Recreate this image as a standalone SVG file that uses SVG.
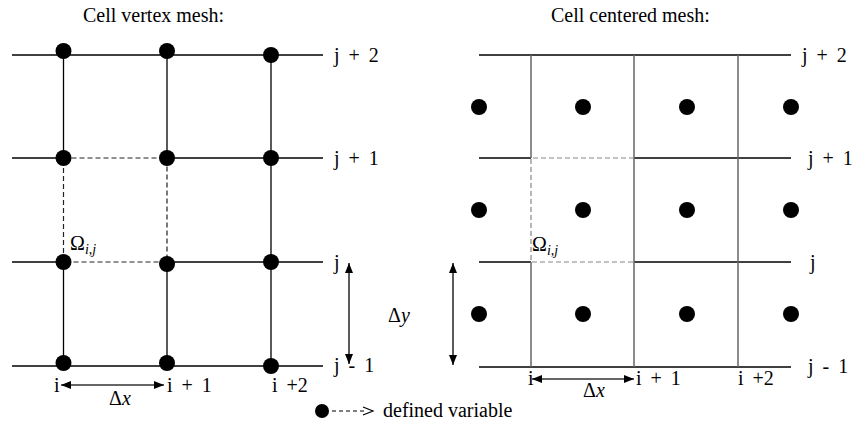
<svg xmlns="http://www.w3.org/2000/svg" width="856" height="425" viewBox="0 0 856 425">
<style>
.ln{stroke:#000;stroke-width:1.3;fill:none}
.gv{stroke:#666;stroke-width:1.5;fill:none}
.ds{stroke:#222;stroke-width:1.2;stroke-dasharray:5 3;fill:none}
.dsg{stroke:#888;stroke-width:1.2;stroke-dasharray:5 3;fill:none}
.dot{fill:#000}
.t{font-family:"Liberation Serif","Times New Roman",serif;font-size:20px;fill:#000}
.lab{font-family:"Liberation Serif","Times New Roman",serif;font-size:20px;fill:#000;word-spacing:4px}
.it{font-style:italic}
.ar{stroke:#333;stroke-width:1.6;fill:none;marker-start:url(#ah);marker-end:url(#ah)}
</style>
<defs>
<marker id="ah" viewBox="0 0 10 8" refX="10" refY="4" markerWidth="10" markerHeight="8" markerUnits="userSpaceOnUse" orient="auto-start-reverse">
<path d="M0,0 L10,4 L0,8 z" fill="#000"/>
</marker>
</defs>

<text class="t" x="83" y="22">Cell vertex mesh:</text>
<text class="t" x="551" y="22">Cell centered mesh:</text>

<g id="vertex-mesh">
<line class="ln" x1="12" y1="55" x2="323" y2="55"/>
<line class="ln" x1="12" y1="158" x2="63.5" y2="158"/>
<line class="ln" x1="167" y1="158" x2="323" y2="158"/>
<line class="ln" x1="12" y1="262" x2="63.5" y2="262"/>
<line class="ln" x1="167" y1="262" x2="323" y2="262"/>
<line class="ln" x1="12" y1="366" x2="323" y2="366"/>
<line class="ln" x1="63.5" y1="55" x2="63.5" y2="158"/>
<line class="ln" x1="63.5" y1="262" x2="63.5" y2="366"/>
<line class="ln" x1="167" y1="55" x2="167" y2="158"/>
<line class="ln" x1="167" y1="262" x2="167" y2="366"/>
<line class="ln" x1="271" y1="55" x2="271" y2="366"/>
<path class="ds" d="M63.5,158 H167 V262 H63.5 Z"/>
<g id="vertex-nodes">
<circle class="dot" cx="63.5" cy="51" r="8"/>
<circle class="dot" cx="167" cy="51" r="8"/>
<circle class="dot" cx="271" cy="55" r="8"/>
<circle class="dot" cx="63.5" cy="158" r="8"/>
<circle class="dot" cx="167" cy="158" r="8"/>
<circle class="dot" cx="271" cy="158" r="8"/>
<circle class="dot" cx="63.5" cy="262" r="8"/>
<circle class="dot" cx="167" cy="264" r="8"/>
<circle class="dot" cx="271" cy="262" r="8"/>
<circle class="dot" cx="63.5" cy="363" r="8"/>
<circle class="dot" cx="167" cy="363" r="8"/>
<circle class="dot" cx="271" cy="366" r="8"/>
</g>
<text class="t" x="70" y="250">Ω<tspan class="it" font-size="14" dy="4">i,j</tspan></text>
<text class="lab" x="334" y="62">j + 2</text>
<text class="lab" x="334" y="165">j + 1</text>
<text class="lab" x="334" y="269">j</text>
<text class="lab" x="334" y="372">j - 1</text>
<text class="lab" x="54" y="392">i</text>
<text class="lab" x="167" y="392">i + 1</text>
<text class="lab" x="272" y="392">i +2</text>
<text class="t" x="109" y="405">Δ<tspan class="it">x</tspan></text>
<text class="t" x="388" y="322">Δ<tspan class="it">y</tspan></text>
</g>

<g id="centered-mesh">
<line class="ln" x1="479" y1="55" x2="791" y2="55"/>
<line class="ln" x1="479" y1="158" x2="531" y2="158"/>
<line class="ln" x1="634" y1="158" x2="791" y2="158"/>
<line class="ln" x1="479" y1="262" x2="531" y2="262"/>
<line class="ln" x1="634" y1="262" x2="791" y2="262"/>
<line class="ln" x1="479" y1="367" x2="791" y2="367"/>
<line class="gv" x1="531" y1="55" x2="531" y2="158"/>
<line class="gv" x1="531" y1="262" x2="531" y2="367"/>
<line class="gv" x1="634" y1="55" x2="634" y2="367"/>
<line class="gv" x1="738" y1="55" x2="738" y2="367"/>
<path class="dsg" d="M634,158 H531 V262 H634"/>
<g id="centered-nodes">
<circle class="dot" cx="479" cy="107" r="8"/>
<circle class="dot" cx="583" cy="107" r="8"/>
<circle class="dot" cx="687" cy="107" r="8"/>
<circle class="dot" cx="791" cy="107" r="8"/>
<circle class="dot" cx="479" cy="210" r="8"/>
<circle class="dot" cx="583" cy="210" r="8"/>
<circle class="dot" cx="687" cy="210" r="8"/>
<circle class="dot" cx="791" cy="210" r="8"/>
<circle class="dot" cx="479" cy="314" r="8"/>
<circle class="dot" cx="583" cy="314" r="8"/>
<circle class="dot" cx="687" cy="314" r="8"/>
<circle class="dot" cx="791" cy="314" r="8"/>
</g>
<text class="t" x="532" y="251">Ω<tspan class="it" font-size="14" dy="4">i,j</tspan></text>
<text class="lab" x="802" y="62">j + 2</text>
<text class="lab" x="808" y="165">j + 1</text>
<text class="lab" x="810" y="269">j</text>
<text class="lab" x="808" y="373">j - 1</text>
<text class="lab" x="528" y="385">i</text>
<text class="lab" x="636" y="385">i + 1</text>
<text class="lab" x="738" y="385">i +2</text>
<text class="t" x="583" y="397">Δ<tspan class="it">x</tspan></text>
</g>

<g id="connectors">
<line class="ar" x1="61" y1="385" x2="164" y2="385"/>
<line class="ar" x1="349" y1="263" x2="349" y2="364"/>
<line class="ar" x1="532" y1="379" x2="634" y2="379"/>
<line class="ar" x1="453" y1="263" x2="453" y2="365"/>
</g>

<g id="legend">
<circle class="dot" cx="322" cy="411" r="7"/>
<line x1="332" y1="411" x2="364" y2="411" stroke="#000" stroke-width="1.2" stroke-dasharray="4 3"/>
<path d="M363,407 L373,411 L363,415" fill="none" stroke="#000" stroke-width="1.2"/>
<text class="t" x="383" y="417">defined variable</text>
</g>
</svg>
